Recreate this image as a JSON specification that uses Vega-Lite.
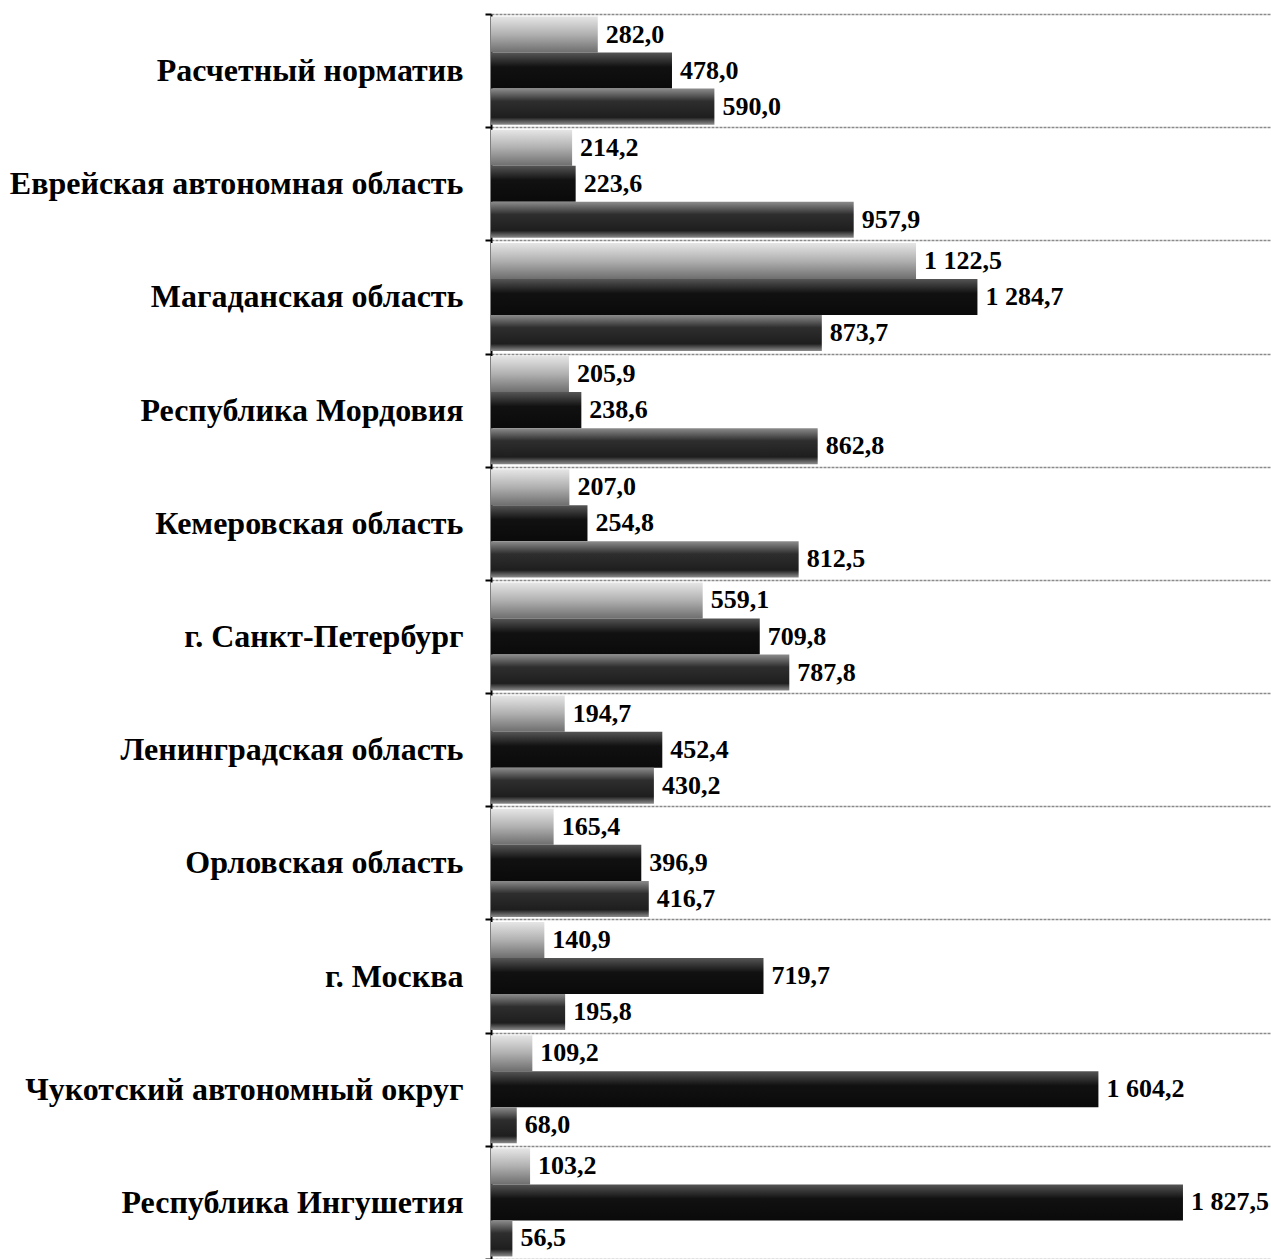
{
  "$schema": "https://vega.github.io/schema/vega-lite/v6.json",
  "autosize": "none",
  "width": 780,
  "height": 1245,
  "padding": {"left": 491, "top": 14, "right": 0, "bottom": 0},
  "background": "white",
  "config": {
    "view": {"stroke": null},
    "locale": {"number": {"decimal": ",", "thousands": " ", "grouping": [3], "currency": ["", ""]}},
    "font": "Liberation Serif"
  },
  "data": {
    "values": [
      {"region": "Расчетный норматив", "series": "a", "value": 282.0},
      {"region": "Расчетный норматив", "series": "b", "value": 478.0},
      {"region": "Расчетный норматив", "series": "c", "value": 590.0},
      {"region": "Еврейская автономная область", "series": "a", "value": 214.2},
      {"region": "Еврейская автономная область", "series": "b", "value": 223.6},
      {"region": "Еврейская автономная область", "series": "c", "value": 957.9},
      {"region": "Магаданская область", "series": "a", "value": 1122.5},
      {"region": "Магаданская область", "series": "b", "value": 1284.7},
      {"region": "Магаданская область", "series": "c", "value": 873.7},
      {"region": "Республика Мордовия", "series": "a", "value": 205.9},
      {"region": "Республика Мордовия", "series": "b", "value": 238.6},
      {"region": "Республика Мордовия", "series": "c", "value": 862.8},
      {"region": "Кемеровская область", "series": "a", "value": 207.0},
      {"region": "Кемеровская область", "series": "b", "value": 254.8},
      {"region": "Кемеровская область", "series": "c", "value": 812.5},
      {"region": "г. Санкт-Петербург", "series": "a", "value": 559.1},
      {"region": "г. Санкт-Петербург", "series": "b", "value": 709.8},
      {"region": "г. Санкт-Петербург", "series": "c", "value": 787.8},
      {"region": "Ленинградская область", "series": "a", "value": 194.7},
      {"region": "Ленинградская область", "series": "b", "value": 452.4},
      {"region": "Ленинградская область", "series": "c", "value": 430.2},
      {"region": "Орловская область", "series": "a", "value": 165.4},
      {"region": "Орловская область", "series": "b", "value": 396.9},
      {"region": "Орловская область", "series": "c", "value": 416.7},
      {"region": "г. Москва", "series": "a", "value": 140.9},
      {"region": "г. Москва", "series": "b", "value": 719.7},
      {"region": "г. Москва", "series": "c", "value": 195.8},
      {"region": "Чукотский автономный округ", "series": "a", "value": 109.2},
      {"region": "Чукотский автономный округ", "series": "b", "value": 1604.2},
      {"region": "Чукотский автономный округ", "series": "c", "value": 68.0},
      {"region": "Республика Ингушетия", "series": "a", "value": 103.2},
      {"region": "Республика Ингушетия", "series": "b", "value": 1827.5},
      {"region": "Республика Ингушетия", "series": "c", "value": 56.5}
    ]
  },
  "encoding": {
    "y": {
      "field": "region",
      "type": "nominal",
      "sort": null,
      "scale": {"paddingInner": 0, "paddingOuter": 0},
      "axis": {
        "title": null,
        "tickBand": "extent",
        "domainColor": "#000",
        "domainWidth": 2,
        "tickColor": "#000",
        "tickWidth": 2,
        "tickSize": 6,
        "grid": true,
        "gridColor": "#8a8a8a",
        "gridWidth": 1.5,
        "gridDash": [3, 1],
        "labelFont": "Liberation Serif",
        "labelFontWeight": "bold",
        "labelFontSize": 32,
        "labelColor": "#000",
        "labelPadding": 22,
        "labelLimit": 500
      }
    },
    "yOffset": {
      "field": "series",
      "type": "nominal",
      "scale": {"paddingInner": 0, "paddingOuter": 0.07}
    },
    "x": {
      "field": "value",
      "type": "quantitative",
      "scale": {"domain": [0, 2060], "nice": false},
      "axis": null
    }
  },
  "layer": [
    {
      "transform": [{"filter": "datum.series === 'a'"}],
      "mark": {
        "type": "bar",
        "color": {
          "gradient": "linear", "x1": 0, "y1": 0, "x2": 0, "y2": 1,
          "stops": [
            {"offset": 0, "color": "#e6e6e6"},
            {"offset": 0.5, "color": "#b0b0b0"},
            {"offset": 1, "color": "#6e6e6e"}
          ]
        }
      }
    },
    {
      "transform": [{"filter": "datum.series === 'b'"}],
      "mark": {
        "type": "bar",
        "color": {
          "gradient": "linear", "x1": 0, "y1": 0, "x2": 0, "y2": 1,
          "stops": [
            {"offset": 0, "color": "#555555"},
            {"offset": 0.4, "color": "#111111"},
            {"offset": 1, "color": "#0a0a0a"}
          ]
        }
      }
    },
    {
      "transform": [{"filter": "datum.series === 'c'"}],
      "mark": {
        "type": "bar",
        "color": {
          "gradient": "linear", "x1": 0, "y1": 0, "x2": 0, "y2": 1,
          "stops": [
            {"offset": 0, "color": "#8c8c8c"},
            {"offset": 0.35, "color": "#2e2e2e"},
            {"offset": 0.8, "color": "#1e1e1e"},
            {"offset": 1, "color": "#8c8c8c"}
          ]
        }
      }
    },
    {
      "mark": {
        "type": "text",
        "align": "left",
        "baseline": "middle",
        "dx": 8,
        "font": "Liberation Serif",
        "fontWeight": "bold",
        "fontSize": 26,
        "color": "#000"
      },
      "encoding": {
        "text": {"field": "value", "type": "quantitative", "format": ",.1f"}
      }
    }
  ]
}
